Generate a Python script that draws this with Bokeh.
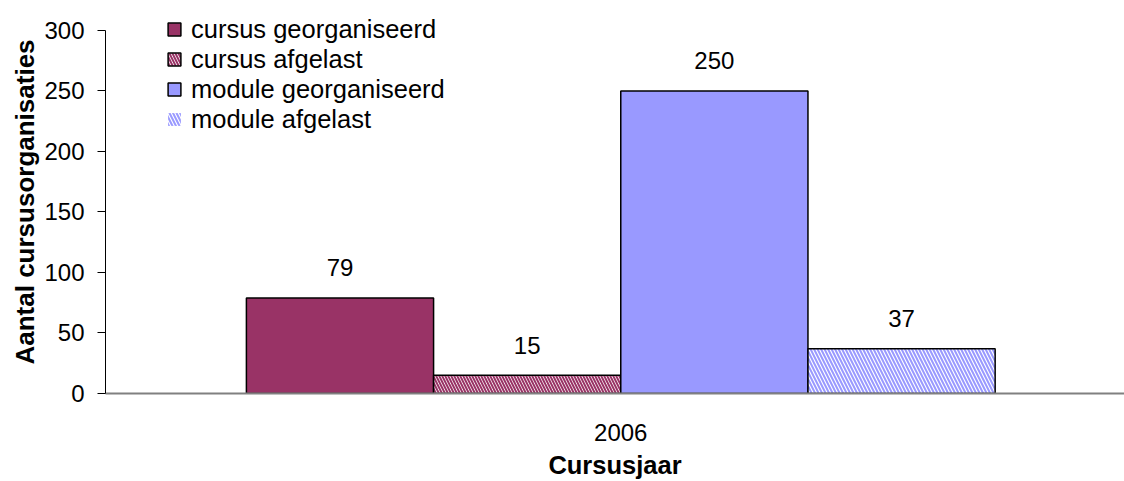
from bokeh.plotting import figure
from bokeh.models import Range1d, FixedTicker, ColumnDataSource, Legend, LegendItem, Title
from bokeh.core.properties import value
from bokeh.embed import file_html
from bokeh.resources import INLINE

years = ["2006"]
series = ["cursus georganiseerd", "cursus afgelast", "module georganiseerd", "module afgelast"]
values = [79, 15, 250, 37]
y_ticks = [0, 50, 100, 150, 200, 250, 300]
x_title = "Cursusjaar"
y_title = "Aantal cursusorganisaties"

FONT = "Liberation Sans"
pos = list(range(len(series)))
center = (len(series) - 1) / 2

p = figure(width=1124, height=481, output_backend="svg", toolbar_location=None,
           x_range=Range1d(-1.2527, 4.191), y_range=Range1d(0, 316.48),
           min_border_left=105, min_border_right=0, min_border_top=10, min_border_bottom=87)
p.outline_line_color = None
p.xgrid.visible = False
p.ygrid.visible = False
p.background_fill_color = "white"

fills = ["#993366", "white", "#9999FF", "white"]
hatches = [None, "left_diagonal_line", None, "left_diagonal_line"]
hatch_colors = [None, "#993366", None, "#9999FF"]
hatch_scales = [None, 6, None, 7]
lines = ["black", "black", "black", None]

renderers = []
for i, name in enumerate(series):
    src = ColumnDataSource(dict(x=[pos[i]], top=[values[i]]))
    kw = dict(x="x", top="top", bottom=0, width=1.0, source=src,
              fill_color=fills[i], line_color=lines[i], line_width=1.5)
    if hatches[i]:
        kw.update(hatch_pattern=hatches[i], hatch_color=hatch_colors[i],
                  hatch_scale=hatch_scales[i], hatch_weight=2)
    r = p.vbar(**kw)
    renderers.append(r)
    if lines[i] is None:
        p.vbar(x="x", top="top", bottom=0, width=1.0, source=src,
               fill_color=None, line_color="black", line_width=1.5)

lab_src = ColumnDataSource(dict(x=pos, y=values, t=[str(v) for v in values]))
p.text(x="x", y="y", text="t", source=lab_src, text_align="center",
       text_baseline="middle", y_offset=-30, text_font=value(FONT),
       text_font_size="24px", text_color="black")

legend = Legend(items=[LegendItem(label=s, renderers=[r]) for s, r in zip(series, renderers)],
                location=(61, 259), glyph_width=16, glyph_height=16, label_standoff=9,
                padding=0, margin=0, spacing=0, label_height=30,
                label_text_font=FONT, label_text_font_size="25.5px", label_text_color="black",
                background_fill_alpha=0, border_line_alpha=0)
p.add_layout(legend, "center")

xa = p.xaxis[0]
xa.ticker = FixedTicker(ticks=[center])
xa.major_label_overrides = {center: years[0]}
xa.major_tick_line_color = None
xa.minor_tick_line_color = None
xa.axis_line_color = "#808080"
xa.axis_line_width = 2
xa.major_label_text_font = FONT
xa.major_label_text_font_size = "24px"
xa.major_label_text_color = "black"
xa.major_label_standoff = 24
xa.axis_label = x_title
xa.axis_label_text_font = FONT
xa.axis_label_text_font_size = "25.5px"
xa.axis_label_text_font_style = "bold"
xa.axis_label_text_color = "black"
xa.axis_label_standoff = 7

ya = p.yaxis[0]
ya.ticker = FixedTicker(ticks=y_ticks)
ya.bounds = (0, 300)
ya.major_tick_out = 8
ya.major_tick_in = 0
ya.minor_tick_line_color = None
ya.axis_line_color = "black"
ya.major_tick_line_color = "black"
ya.major_label_text_font = FONT
ya.major_label_text_font_size = "24px"
ya.major_label_text_color = "black"
ya.major_label_standoff = 13

yt = Title(text=y_title, align="center", offset=-14, standoff=4,
           text_font=FONT, text_font_size="26px", text_font_style="bold",
           text_color="black")
p.add_layout(yt, "left")

open("out.html", "w").write(file_html(p, INLINE))
